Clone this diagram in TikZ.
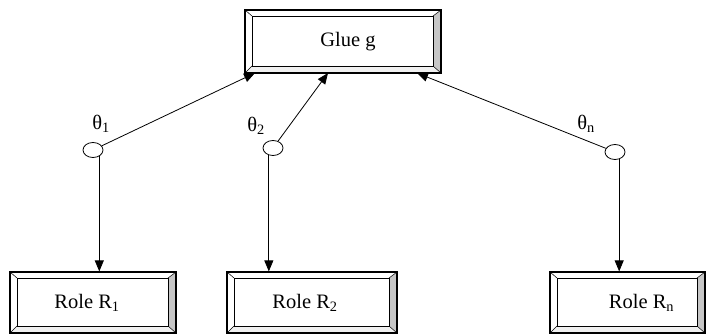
\documentclass[tikz,border=0pt]{standalone}
\usepackage{fontspec}
\setmainfont{Liberation Serif}
\usetikzlibrary{shapes.geometric,arrows.meta,calc}
\begin{document}
\begin{tikzpicture}[x=1pt,y=-1pt,
  txt/.style={font=\fontsize{20.5}{24}\selectfont},
  bevelbox/.style={draw, line width=1.2pt, inner sep=0pt,
    path picture={
      \path (path picture bounding box.north west) coordinate (pNW)
            (path picture bounding box.north east) coordinate (pNE)
            (path picture bounding box.south west) coordinate (pSW)
            (path picture bounding box.south east) coordinate (pSE);
      \fill[gray!12] (pSW) -- ($(pSW)+(7pt,7pt)$) -- ($(pSE)+(-8pt,7pt)$) -- (pSE) -- cycle;
      \fill[gray!45] (pNE) -- ($(pNE)+(-8pt,-6pt)$) -- ($(pSE)+(-8pt,7pt)$) -- (pSE) -- cycle;
      \draw[line width=0.7pt] ($(pNW)+(7pt,-6pt)$) rectangle ($(pSE)+(-8pt,7pt)$);
      \draw[line width=0.5pt] (pNW) -- ($(pNW)+(7pt,-6pt)$)
                              (pNE) -- ($(pNE)+(-8pt,-6pt)$)
                              (pSW) -- ($(pSW)+(7pt,7pt)$)
                              (pSE) -- ($(pSE)+(-8pt,7pt)$);
    }},
  circ/.style={ellipse, draw, line width=0.8pt, minimum width=20pt, minimum height=15pt, inner sep=0pt},
  arr/.style={-{Triangle[length=11pt,width=9pt]}, line width=0.8pt},
  every label/.style={txt}
]
\useasboundingbox (0,0) rectangle (706,334);

\node[bevelbox, minimum width=196pt, minimum height=63pt,
      label={[xshift=5pt]center:Glue g}] (glue) at (343,41.5) {};
\node[bevelbox, minimum width=166pt, minimum height=61pt,
      label={[xshift=-6pt]center:Role R\textsubscript{1}}] (r1) at (93,302.5) {};
\node[bevelbox, minimum width=170pt, minimum height=61pt,
      label={[xshift=-7pt]center:Role R\textsubscript{2}}] (r2) at (312,302.5) {};
\node[bevelbox, minimum width=155pt, minimum height=61pt,
      label={[xshift=14pt]center:Role R\textsubscript{n}}] (rn) at (627.5,302.5) {};

\node[circ] (c1) at (93,150) {};
\node[circ] (c2) at (273,148) {};
\node[circ] (cn) at (615,152) {};

\node[txt] (l1) at (101,124) {θ\textsubscript{1}};
\node[txt] (l2) at (256,126) {θ\textsubscript{2}};
\node[txt] (ln) at (586,124) {θ\textsubscript{n}};

\coordinate (t1) at (255,73);
\coordinate (t2) at (328,73);
\coordinate (tn) at (417,73);

\draw[arr] (c1) -- (t1);
\draw[arr] (c2) -- (t2);
\draw[arr] (cn) -- (tn);

\draw[arr] (c1.-45) -- (c1.-45 |- r1.north);
\draw[arr] (c2.-120) -- (c2.-120 |- r2.north);
\draw[arr] (cn.-60) -- (cn.-60 |- rn.north);
\end{tikzpicture}
\end{document}
